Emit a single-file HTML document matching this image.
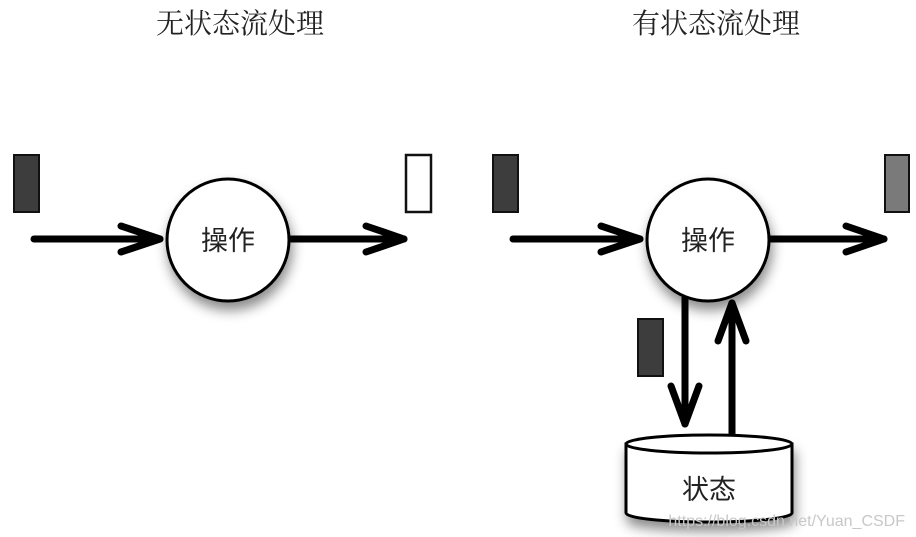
<!DOCTYPE html>
<html><head><meta charset="utf-8"><style>
html,body{margin:0;padding:0;background:#fff;width:916px;height:537px;overflow:hidden}
svg{display:block}
</style></head><body>
<svg width="916" height="537" viewBox="0 0 916 537" xmlns="http://www.w3.org/2000/svg">
<defs>
<filter id="sh" x="-30%" y="-30%" width="160%" height="170%">
<feDropShadow dx="2" dy="8" stdDeviation="6" flood-color="#000" flood-opacity="0.45"/>
</filter>
</defs>
<g font-family="'Liberation Serif','Noto Serif CJK SC',serif" font-size="28" fill="#222" text-anchor="middle">
<text x="240" y="33">无状态流处理</text>
<text x="716" y="33">有状态流处理</text>
</g>
<!-- left -->
<rect x="14" y="155" width="25" height="57" fill="#3d3d3d" stroke="#111" stroke-width="2"/>
<rect x="406" y="155" width="25" height="57" fill="#fff" stroke="#111" stroke-width="2.5"/>
<g stroke="#000" stroke-width="7" fill="none" stroke-linecap="round" stroke-linejoin="round">
<line x1="34" y1="239" x2="160" y2="239"/>
<polyline points="121,226 160,239 121,252"/>
<line x1="291" y1="239" x2="404" y2="239"/>
<polyline points="366,226 404,239 366,252"/>
</g>
<circle cx="228" cy="240" r="61" fill="#fff" stroke="#000" stroke-width="3" filter="url(#sh)"/>
<text x="228" y="250" font-family="'Liberation Sans','Noto Sans CJK SC',sans-serif" font-size="27" fill="#222" text-anchor="middle">操作</text>
<!-- right -->
<rect x="493" y="155" width="25" height="57" fill="#3d3d3d" stroke="#111" stroke-width="2"/>
<rect x="885" y="155" width="24" height="57" fill="#7a7a7a" stroke="#111" stroke-width="2"/>
<rect x="638" y="319" width="25" height="57" fill="#3d3d3d" stroke="#111" stroke-width="2"/>
<g stroke="#000" stroke-width="7" fill="none" stroke-linecap="round" stroke-linejoin="round">
<line x1="513" y1="239" x2="640" y2="239"/>
<polyline points="601,226 640,239 601,252"/>
<line x1="770" y1="239" x2="884" y2="239"/>
<polyline points="846,226 884,239 846,252"/>
<line x1="685" y1="290" x2="685" y2="424"/>
<polyline points="671,386 685,424 699,386"/>
<line x1="732" y1="436" x2="732" y2="303"/>
<polyline points="718,341 732,303 746,341"/>
</g>
<circle cx="708" cy="240" r="61" fill="#fff" stroke="#000" stroke-width="3" filter="url(#sh)"/>
<text x="708" y="250" font-family="'Liberation Sans','Noto Sans CJK SC',sans-serif" font-size="27" fill="#222" text-anchor="middle">操作</text>
<!-- cylinder -->
<g filter="url(#sh)">
<path d="M626,444 L626,513 A83,9 0 0 0 792,513 L792,444 Z" fill="#fff" stroke="#000" stroke-width="3"/>
</g>
<ellipse cx="709" cy="444" rx="83" ry="9" fill="#fff" stroke="#000" stroke-width="3"/>
<text x="709" y="499" font-family="'Liberation Sans','Noto Sans CJK SC',sans-serif" font-size="27" fill="#222" text-anchor="middle">状态</text>
<text x="905" y="526" font-family="'Liberation Sans',sans-serif" font-size="16" fill="#c8c8c8" text-anchor="end">https://blog.csdn.net/Yuan_CSDF</text>
</svg>
</body></html>
